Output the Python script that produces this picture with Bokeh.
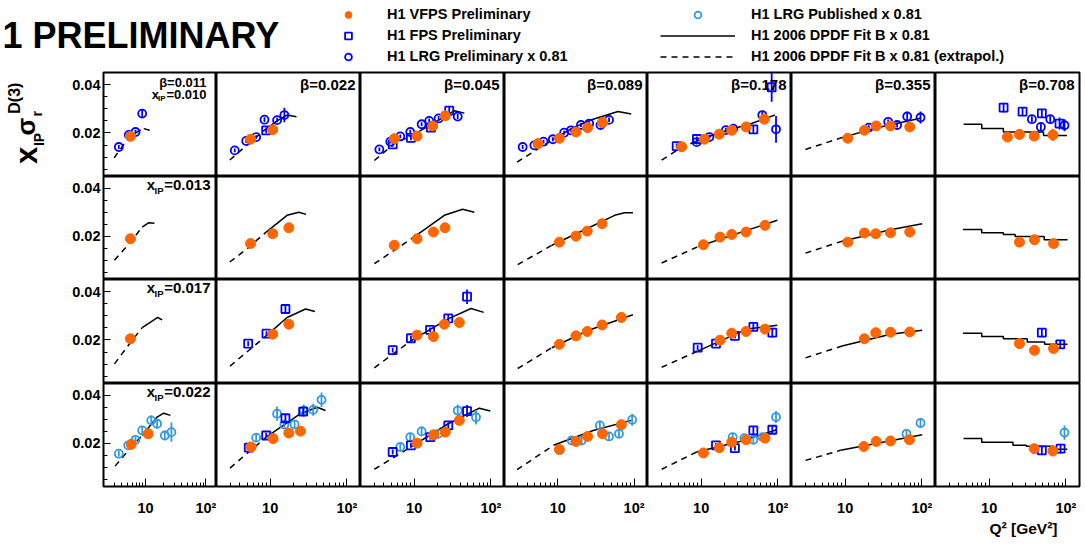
import math
from bokeh.plotting import figure
from bokeh.models import (Range1d, FixedTicker, Label, Legend, LegendItem,
                          CustomJSTickFormatter)
from bokeh.layouts import gridplot, column, row
from bokeh.embed import file_html
from bokeh.resources import INLINE

# ------------------------------------------------------------------ data
BETA_LABELS = ["0.011", "0.022", "0.045", "0.089", "0.178", "0.355", "0.708"]
XPOM_LABELS = ["0.010", "0.013", "0.017", "0.022"]
Q2_RANGE = (2.0, 150.0)
XS_RANGE = (0.002, 0.045)
Q2_TICKS = [10, 100]
Q2_TICK_LABELS = ["10", "10\u00b2"]
Q2_MINOR = [3, 4, 5, 6, 7, 8, 9, 20, 30, 40, 50, 60, 70, 80, 90]
XS_TICKS = [0.02, 0.04]
XS_MINOR = [0.005, 0.01, 0.015, 0.025, 0.03, 0.035, 0.045]
FIT_Q2_MIN = 8.3  # fit drawn solid above this Q2, dashed below (extrapolation)

# H1 VFPS Preliminary  [row][col] -> list
VFPS_Q2 = [
    [[5.6], [5.55, 10.8], [5.5, 10.9, 17.4, 25.4], [5.5, 10.5, 17.3, 24.6, 38.5],
     [5.57, 11.0, 17.2, 25.0, 38.4, 66.4], [10.8, 17.8, 25.3, 38.9, 69.3], [17.3, 24.8, 38.6, 67.6]],
    [[5.6], [5.55, 10.8, 17.5], [5.5, 10.9, 17.8, 25.2], [10.5, 17.3, 24.3, 38.1],
     [10.7, 17.6, 25.0, 38.4, 67.8], [10.8, 17.8, 25.0, 38.9, 69.3], [24.8, 38.9, 68.9]],
    [[5.6], [10.8, 17.5], [10.9, 17.8, 24.7, 38.7], [10.5, 17.3, 24.3, 38.1, 68.1],
     [17.6, 25.0, 38.4, 67.8], [17.8, 25.0, 38.9, 69.3], [24.8, 38.9, 68.9]],
    [[5.75, 11.0], [5.66, 10.9, 17.5, 24.8], [10.9, 17.9, 25.4, 38.7], [10.5, 17.3, 24.6, 38.5, 68.1],
     [10.7, 17.2, 25.0, 38.4, 67.8], [17.5, 25.3, 38.9, 68.7], [38.6, 67.6]],
]
VFPS_XS = [
    [[0.0186], [0.0174, 0.0213], [0.0176, 0.0187, 0.0229, 0.0271], [0.0156, 0.0178, 0.0204, 0.0222, 0.0243],
     [0.0143, 0.0174, 0.0195, 0.0211, 0.0225, 0.0257], [0.0178, 0.0211, 0.0229, 0.0229, 0.0225],
     [0.0183, 0.0194, 0.0187, 0.0192]],
    [[0.0190], [0.0170, 0.0211, 0.0236], [0.0163, 0.0190, 0.0218, 0.0236], [0.0176, 0.0201, 0.0222, 0.0253],
     [0.0165, 0.0197, 0.0208, 0.0218, 0.0246], [0.0176, 0.0214, 0.0211, 0.0215, 0.0218],
     [0.0176, 0.0186, 0.0170]],
    [[0.0205], [0.0224, 0.0265], [0.0220, 0.0214, 0.0265, 0.0272], [0.0182, 0.0217, 0.0235, 0.0262, 0.0293],
     [0.0199, 0.0228, 0.0235, 0.0245], [0.0205, 0.0230, 0.0232, 0.0233], [0.0185, 0.0157, 0.0165]],
    [[0.0196, 0.0240], [0.0185, 0.0220, 0.0243, 0.0251], [0.0201, 0.0236, 0.0247, 0.0296],
     [0.0174, 0.0208, 0.0229, 0.0240, 0.0278], [0.0160, 0.0182, 0.0205, 0.0215, 0.0222],
     [0.0187, 0.0208, 0.0210, 0.0215], [0.0178, 0.0168]],
]
VFPS_ERR = [
    [[0.0010], [0.0010, 0.0010], [0.0010, 0.0010, 0.0012, 0.0018], [0.0010, 0.0010, 0.0010, 0.0010, 0.0010],
     [0.0010, 0.0010, 0.0010, 0.0010, 0.0010, 0.0018], [0.0010, 0.0010, 0.0010, 0.0010, 0.0012],
     [0.0012, 0.0020, 0.0015, 0.0025]],
    [[0.0010], [0.0010, 0.0010, 0.0015], [0.0010, 0.0010, 0.0010, 0.0010], [0.0010, 0.0010, 0.0010, 0.0012],
     [0.0010, 0.0010, 0.0010, 0.0010, 0.0012], [0.0010, 0.0015, 0.0010, 0.0010, 0.0012],
     [0.0012, 0.0012, 0.0012]],
    [[0.0010], [0.0010, 0.0015], [0.0010, 0.0010, 0.0015, 0.0015], [0.0010, 0.0010, 0.0010, 0.0010, 0.0018],
     [0.0010, 0.0010, 0.0010, 0.0015], [0.0015, 0.0015, 0.0010, 0.0010], [0.0022, 0.0012, 0.0012]],
    [[0.0010, 0.0010], [0.0010, 0.0010, 0.0015, 0.0015], [0.0010, 0.0010, 0.0010, 0.0018],
     [0.0010, 0.0010, 0.0010, 0.0010, 0.0018], [0.0010, 0.0010, 0.0010, 0.0010, 0.0010],
     [0.0010, 0.0010, 0.0010, 0.0010], [0.0012, 0.0018]],
]

# H1 FPS Preliminary  [row][col] -> list
FPS_Q2 = [
    [[], [8.87], [5.25, 9.07, 16.5, 28.6], [], [4.8, 8.8, 47.8, 82.8], [], [15.4, 27.2, 48.5, 82.4]],
    [[], [], [], [], [], [], []],
    [[], [5.17, 8.95, 15.8], [5.25, 9.07, 16.1, 27.8, 48.8], [], [9.0, 15.6, 27.5, 47.8, 84.4], [], [48.5, 84.2]],
    [[], [5.27, 8.87, 15.8, 26.9], [5.25, 9.07, 16.2, 27.8, 48.8], [], [15.6, 27.5, 47.8, 84.4], [], [48.5, 85.0]],
]
FPS_XS = [
    [[], [0.0211], [0.0153, 0.0180, 0.0222, 0.0292], [], [0.0146, 0.0175, 0.0215, 0.0389], [],
     [0.0305, 0.0288, 0.0281, 0.0239]],
    [[], [], [], [], [], [], []],
    [[], [0.0185, 0.0226, 0.0328], [0.0158, 0.0207, 0.0242, 0.0289, 0.0379], [],
     [0.0168, 0.0185, 0.0217, 0.0254, 0.0230], [], [0.0230, 0.0182]],
    [[], [0.0182, 0.0233, 0.0305, 0.0333], [0.0164, 0.0192, 0.0226, 0.0275, 0.0335], [],
     [0.0192, 0.0180, 0.0254, 0.0257], [], [0.0171, 0.0178]],
]
FPS_ERR = [
    [[], [0.0012], [0.0010, 0.0010, 0.0012, 0.0020], [], [0.0010, 0.0010, 0.0015, 0.0060], [],
     [0.0020, 0.0018, 0.0018, 0.0025]],
    [[], [], [], [], [], [], []],
    [[], [0.0010, 0.0010, 0.0020], [0.0010, 0.0010, 0.0010, 0.0015, 0.0030], [],
     [0.0010, 0.0010, 0.0010, 0.0015, 0.0020], [], [0.0015, 0.0015]],
    [[], [0.0010, 0.0010, 0.0015, 0.0020], [0.0010, 0.0010, 0.0010, 0.0012, 0.0025], [],
     [0.0010, 0.0010, 0.0015, 0.0018], [], [0.0015, 0.0020]],
]

# H1 LRG Preliminary x 0.81 (top row only)  [col] -> list
LRG_PRE_ROW = 0
LRG_PRE_Q2 = [
    [3.59, 5.26, 6.79, 8.77],
    [3.46, 4.87, 6.57, 8.43, 12.3, 15.3],
    [3.52, 4.89, 6.59, 8.89, 12.5, 15.7, 20.8, 36.9],
    [3.46, 4.92, 6.5, 8.6, 12.1, 14.9, 20.1, 25.8, 36.3, 47.0],
    [8.74, 12.8, 21.0, 26.2, 62.5, 94.3],
    [20.3, 36.3, 47.5, 64.2, 95.7],
    [36.0, 47.1, 62.4, 95.7],
]
LRG_PRE_XS = [
    [0.0142, 0.0192, 0.0204, 0.0280],
    [0.0128, 0.0167, 0.0183, 0.0255, 0.0253, 0.0274],
    [0.0132, 0.0164, 0.0186, 0.0204, 0.0236, 0.0250, 0.0260, 0.0268],
    [0.0142, 0.0149, 0.0164, 0.0174, 0.0201, 0.0211, 0.0233, 0.0239, 0.0233, 0.0254],
    [0.0162, 0.0183, 0.0212, 0.0218, 0.0274, 0.0215],
    [0.0222, 0.0246, 0.0233, 0.0268, 0.0264],
    [0.0257, 0.0225, 0.0257, 0.0232],
]
LRG_PRE_ERR = [
    [0.0008, 0.0008, 0.0008, 0.0018],
    [0.0008, 0.0008, 0.0008, 0.0010, 0.0010, 0.0030],
    [0.0008, 0.0008, 0.0008, 0.0008, 0.0008, 0.0010, 0.0010, 0.0010],
    [0.0008, 0.0008, 0.0008, 0.0008, 0.0008, 0.0008, 0.0008, 0.0008, 0.0010, 0.0010],
    [0.0010, 0.0010, 0.0010, 0.0010, 0.0015, 0.0055],
    [0.0010, 0.0010, 0.0010, 0.0020, 0.0025],
    [0.0012, 0.0015, 0.0015, 0.0025],
]

# H1 LRG Published x 0.81 (bottom row only)  [col] -> list
LRG_PUB_ROW = 3
LRG_PUB_Q2 = [
    [3.59, 5.14, 6.79, 8.77, 12.4, 15.5, 20.8, 26.8],
    [6.57, 12.3, 15.3, 20.8, 27.4, 36.3, 46.6],
    [6.59, 8.89, 12.5, 20.6, 36.9, 63.8],
    [15.2, 20.5, 35.6, 47.0, 63.4, 94.4],
    [25.7, 36.4, 47.8, 63.2, 94.3],
    [62.8, 95.7],
    [95.7],
]
LRG_PUB_XS = [
    [0.0157, 0.0192, 0.0215, 0.0254, 0.0296, 0.0282, 0.0233, 0.0247],
    [0.0224, 0.0324, 0.0278, 0.0279, 0.0337, 0.0340, 0.0382],
    [0.0185, 0.0226, 0.0250, 0.0240, 0.0337, 0.0309],
    [0.0212, 0.0212, 0.0275, 0.0229, 0.0240, 0.0299],
    [0.0226, 0.0222, 0.0215, 0.0226, 0.0310],
    [0.0240, 0.0285],
    [0.0245],
]
LRG_PUB_ERR = [
    [0.0012, 0.0012, 0.0012, 0.0015, 0.0020, 0.0020, 0.0020, 0.0040],
    [0.0015, 0.0030, 0.0015, 0.0015, 0.0025, 0.0025, 0.0030],
    [0.0015, 0.0015, 0.0020, 0.0015, 0.0025, 0.0030],
    [0.0015, 0.0015, 0.0020, 0.0015, 0.0015, 0.0025],
    [0.0015, 0.0015, 0.0015, 0.0015, 0.0025],
    [0.0015, 0.0020],
    [0.0030],
]

# H1 2006 DPDF Fit B x 0.81, columns beta=0.011..0.355  [row][col] -> list
FIT_Q2 = [
    [[3.0, 4.35, 6.36, 9.3, 11.7], [2.98, 5.02, 8.69, 12.3, 16.6, 22.0], [3.03, 5.51, 9.07, 18.3, 33.5, 45.0],
     [2.92, 5.33, 8.77, 16.0, 29.1, 61.5, 91.8], [3.06, 5.3, 8.74, 17.5, 44.3, 91.4], [3.04, 8.5, 26.1, 95.7]],
    [[3.04, 5.61, 8.77, 11.3, 14.0], [2.98, 5.02, 8.87, 16.6, 23.6, 29.4], [3.03, 5.51, 9.9, 24.7, 42.8, 60.6],
     [2.98, 8.36, 24.3, 55.7, 75.0, 96.6], [3.06, 9.2, 39.2, 98.0], [3.04, 9.1, 38.9, 100.7]],
    [[3.04, 5.6, 8.77, 15.9, 18.8], [3.0, 8.87, 16.6, 28.9, 38.2], [3.03, 9.07, 27.3, 55.0, 80.4],
     [2.98, 8.36, 24.3, 96.6], [3.06, 9.0, 39.2, 98.0], [3.04, 9.1, 38.9, 100.7]],
    [[3.12, 5.14, 8.77, 15.5, 20.0, 25.8], [3.0, 8.87, 24.8, 40.9, 52.5], [3.03, 9.07, 27.8, 70.5, 98.0],
     [2.92, 8.77, 29.1, 91.8], [3.06, 8.74, 32.0, 96.2], [3.04, 8.7, 100.7]],
]
FIT_XS = [
    [[0.0097, 0.0153, 0.0197, 0.0218, 0.0211], [0.0088, 0.0151, 0.0215, 0.0250, 0.0274, 0.0267],
     [0.0086, 0.0156, 0.0187, 0.0243, 0.0292, 0.0282], [0.0079, 0.0132, 0.0174, 0.0222, 0.0257, 0.0289, 0.0278],
     [0.0088, 0.0136, 0.0167, 0.0202, 0.0238, 0.0274], [0.0132, 0.0178, 0.0222, 0.0261]],
    [[0.0100, 0.0176, 0.0239, 0.0257, 0.0255], [0.0093, 0.0149, 0.0218, 0.0288, 0.0301, 0.0292],
     [0.0086, 0.0142, 0.0197, 0.0288, 0.0313, 0.0301], [0.0082, 0.0163, 0.0233, 0.0288, 0.0299, 0.0299],
     [0.0089, 0.0158, 0.0225, 0.0267], [0.0130, 0.0180, 0.0228, 0.0253]],
    [[0.0101, 0.0189, 0.0251, 0.0293, 0.0283], [0.0092, 0.0217, 0.0293, 0.0328, 0.0318],
     [0.0085, 0.0196, 0.0286, 0.0330, 0.0314], [0.0082, 0.0168, 0.0238, 0.0304],
     [0.0087, 0.0154, 0.0245, 0.0261], [0.0126, 0.0175, 0.0224, 0.0240]],
    [[0.0105, 0.0170, 0.0233, 0.0310, 0.0326, 0.0317], [0.0097, 0.0226, 0.0324, 0.0351, 0.0337],
     [0.0092, 0.0185, 0.0282, 0.0347, 0.0335], [0.0090, 0.0192, 0.0254, 0.0296],
     [0.0092, 0.0164, 0.0208, 0.0257], [0.0129, 0.0171, 0.0236]],
]
# Fit for beta=0.708 (stepped)  [row] -> bin edges / values
STEP_EDGES = [
    [4.64, 8.0, 15.3, 51.0, 103.0],
    [4.55, 8.0, 15.3, 21.8, 52.0, 104.7],
    [4.55, 8.0, 15.3, 31.3, 52.8, 104.7],
    [4.64, 8.0, 20.4, 30.5, 68.9, 104.0],
]
STEP_XS = [
    [0.0236, 0.0218, 0.0204, 0.0190],
    [0.0229, 0.0215, 0.0208, 0.0200, 0.0186],
    [0.0228, 0.0214, 0.0205, 0.0192, 0.0182],
    [0.0220, 0.0205, 0.0192, 0.0188, 0.0175],
]

# ------------------------------------------------------------------ style / layout
ORANGE = "#ff6600"
BLUE = "#0000ff"
LBLUE = "#3399dd"
FONT = "Liberation Sans"
TITLE_W = 66          # left strip holding the y-axis title
LB, BB, TB, RB = 37, 32, 2, 2
FW = [113, 144, 144, 143, 144, 144, 144]
FH = [104, 103, 104, 103]
HEADER_H = 70
FOOTER_H = 26
TOTAL_W = TITLE_W + LB + sum(FW) + RB
GRID_H = TB + sum(FH) + BB
DASH = "6 5"


def label(p, x, y, text, size, align="right", angle=0.0):
    p.add_layout(Label(x=x, y=y, x_units="screen", y_units="screen", text=text,
                       text_font=FONT, text_font_style="bold", text_font_size=f"{size}px",
                       text_align=align, text_baseline="middle", angle=angle,
                       text_color="black"))


def errbars(p, q, y, e, color, width):
    p.segment(x0=q, x1=q, y0=[a - b for a, b in zip(y, e)], y1=[a + b for a, b in zip(y, e)],
              line_color=color, line_width=width)


def blank(w, h):
    f = figure(frame_width=w, frame_height=h, x_range=Range1d(0, 1), y_range=Range1d(0, 1),
               x_axis_location=None, y_axis_location=None, min_border=0,
               output_backend="svg", toolbar_location=None)
    f.grid.visible = False
    f.outline_line_color = None
    return f


rows = []
for r in range(4):
    prow = []
    for c in range(7):
        p = figure(frame_width=FW[c], frame_height=FH[r], x_axis_type="log",
                   x_range=Range1d(*Q2_RANGE), y_range=Range1d(*XS_RANGE),
                   x_axis_location="below" if r == 3 else None,
                   y_axis_location="left" if c == 0 else None,
                   min_border_left=LB if c == 0 else 0, min_border_right=RB if c == 6 else 0,
                   min_border_top=TB if r == 0 else 0, min_border_bottom=BB if r == 3 else 0,
                   output_backend="svg", toolbar_location=None)
        p.grid.visible = False
        p.outline_line_color = "black"
        p.outline_line_width = 2
        p.background_fill_color = "white"
        p.border_fill_color = "white"
        if r == 3:
            ax = p.xaxis[0]
            ax.ticker = FixedTicker(ticks=Q2_TICKS, minor_ticks=Q2_MINOR)
            ax.formatter = CustomJSTickFormatter(
                args=dict(majors=Q2_TICKS, names=Q2_TICK_LABELS),
                code="for (let i = 0; i < majors.length; i++) {"
                     " if (Math.abs(Math.log10(tick) - Math.log10(majors[i])) < 0.01) return names[i]; }"
                     " return '';")
            ax.axis_line_color = None
            ax.major_tick_in, ax.major_tick_out = 8, 0
            ax.minor_tick_in, ax.minor_tick_out = 4, 0
            ax.major_label_standoff = 13
            ax.major_label_text_font = FONT
            ax.major_label_text_font_style = "bold"
            ax.major_label_text_font_size = "14.5px"
            ax.major_label_text_color = "black"
        if c == 0:
            ay = p.yaxis[0]
            ay.ticker = FixedTicker(ticks=XS_TICKS, minor_ticks=XS_MINOR)
            ay.axis_line_color = None
            ay.major_tick_in, ay.major_tick_out = 7, 0
            ay.minor_tick_in, ay.minor_tick_out = 4, 0
            ay.major_label_standoff = 3
            ay.major_label_text_font = FONT
            ay.major_label_text_font_style = "bold"
            ay.major_label_text_font_size = "14.5px"
            ay.major_label_text_color = "black"

        # fit curves
        if c < 6:
            q, y = FIT_Q2[r][c], FIT_XS[r][c]
            k = next(i for i, v in enumerate(q) if v >= FIT_Q2_MIN)
            p.line(q[:k + 1], y[:k + 1], line_color="black", line_width=1.5, line_dash=DASH)
            p.line(q[k:], y[k:], line_color="black", line_width=1.5)
        else:
            sx, sy = [], []
            for i, v in enumerate(STEP_XS[r]):
                sx += [STEP_EDGES[r][i], STEP_EDGES[r][i + 1]]
                sy += [v, v]
            p.line(sx, sy, line_color="black", line_width=1.5)

        # data
        if r == LRG_PUB_ROW and LRG_PUB_Q2[c]:
            errbars(p, LRG_PUB_Q2[c], LRG_PUB_XS[c], LRG_PUB_ERR[c], LBLUE, 1.8)
            p.scatter(LRG_PUB_Q2[c], LRG_PUB_XS[c], marker="circle", size=8,
                      fill_color=None, line_color=LBLUE, line_width=1.8)
        if r == LRG_PRE_ROW and LRG_PRE_Q2[c]:
            errbars(p, LRG_PRE_Q2[c], LRG_PRE_XS[c], LRG_PRE_ERR[c], BLUE, 1.8)
            p.scatter(LRG_PRE_Q2[c], LRG_PRE_XS[c], marker="circle", size=8,
                      fill_color=None, line_color=BLUE, line_width=1.8)
        if FPS_Q2[r][c]:
            errbars(p, FPS_Q2[r][c], FPS_XS[r][c], FPS_ERR[r][c], BLUE, 1.8)
            p.scatter(FPS_Q2[r][c], FPS_XS[r][c], marker="square", size=8,
                      fill_color=None, line_color=BLUE, line_width=1.8)
        if VFPS_Q2[r][c]:
            errbars(p, VFPS_Q2[r][c], VFPS_XS[r][c], VFPS_ERR[r][c], ORANGE, 2)
            p.scatter(VFPS_Q2[r][c], VFPS_XS[r][c], marker="circle", size=10,
                      fill_color=ORANGE, line_color=ORANGE)

        # panel texts (y = vertical centre of the text, measured up from frame bottom)
        if r == 0 and c > 0:
            label(p, FW[c] - 5, FH[r] - 12, "\u03b2=" + BETA_LABELS[c], 15)
        if r == 0 and c == 0:
            label(p, FW[c] - 10, FH[r] - 10, "\u03b2=" + BETA_LABELS[0], 13)
            label(p, FW[c] - 10, FH[r] - 22, "=" + XPOM_LABELS[0], 13)
            label(p, 62, FH[r] - 26, "IP", 8)
            label(p, 55.5, FH[r] - 22, "x", 13)
        if c == 0 and r > 0:
            label(p, 107, FH[r] - 8, "=" + XPOM_LABELS[r], 15)
            label(p, 60, FH[r] - 13.5, "IP", 9.5)
            label(p, 51.5, FH[r] - 8, "x", 15)
        prow.append(p)
    rows.append(prow)

grid = gridplot(rows, toolbar_location=None)

# ------------------------------------------------------------------ y-axis title strip
title_fig = blank(TITLE_W, GRID_H)
ang = math.pi / 2
base = HEADER_H + GRID_H   # page y of the strip's bottom edge
label(title_fig, 26.1, base - 155, "x", 31, "center", ang)
label(title_fig, 38.4, base - 139, "IP", 14, "center", ang)
label(title_fig, 25.9, base - 126, "\u03c3", 26, "center", ang)
label(title_fig, 36.8, base - 113.4, "r", 14, "center", ang)
label(title_fig, 14.4, base - 97.7, "D(3)", 16, "center", ang)

# ------------------------------------------------------------------ header with legend
header = blank(TOTAL_W, HEADER_H)
r_vfps = header.scatter([-5], [-5], marker="circle", size=10, fill_color=ORANGE, line_color=ORANGE)
r_fps = header.scatter([-5], [-5], marker="square", size=7, fill_color=None, line_color=BLUE, line_width=1.8)
r_lrgp = header.scatter([-5], [-5], marker="circle", size=7, fill_color=None, line_color=BLUE, line_width=1.8)
r_lrgpub = header.scatter([-5], [-5], marker="circle", size=7, fill_color=None, line_color=LBLUE,
                          line_width=1.8)
r_fit = header.line([-5, -4], [-5, -5], line_color="black", line_width=1.5)
r_fitx = header.line([-5, -4], [-5, -5], line_color="black", line_width=1.5, line_dash=DASH)


def make_legend(items, x, glyph_w, standoff):
    leg = Legend(items=[LegendItem(label=t, renderers=[rr]) for t, rr in items],
                 location=(x, 5.5), orientation="vertical", padding=0, margin=0, spacing=4,
                 glyph_width=glyph_w, glyph_height=17, label_height=17, label_standoff=standoff,
                 label_text_font=FONT, label_text_font_style="bold", label_text_font_size="14.5px",
                 label_text_color="black", border_line_color=None, background_fill_alpha=0)
    header.add_layout(leg)


make_legend([("H1 VFPS Preliminary", r_vfps), ("H1 FPS Preliminary", r_fps),
             ("H1 LRG Preliminary x 0.81", r_lrgp)], 338, 20, 29)
make_legend([("H1 LRG Published x 0.81", r_lrgpub), ("H1 2006 DPDF Fit B x 0.81", r_fit),
             ("H1 2006 DPDF Fit B x 0.81 (extrapol.)", r_fitx)], 660, 75, 16)
label(header, 2, HEADER_H - 35, "1 PRELIMINARY", 36, "left")

# ------------------------------------------------------------------ footer with axis title
footer = blank(TOTAL_W, FOOTER_H)
label(footer, 1057, 16, "Q\u00b2 [GeV\u00b2]", 15.5)

page = column(header, row(title_fig, grid), footer)
open("out.html", "w").write(file_html(page, INLINE))
